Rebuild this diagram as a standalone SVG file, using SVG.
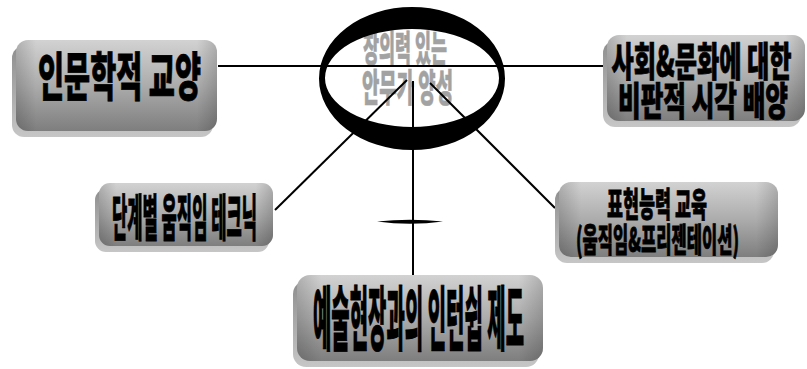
<svg xmlns="http://www.w3.org/2000/svg" width="807" height="369" viewBox="0 0 807 369">
<defs>
<linearGradient id="face" x1="0" y1="0" x2="0" y2="1">
<stop offset="0" stop-color="#d2d2d2"/>
<stop offset="0.5" stop-color="#acacac"/>
<stop offset="1" stop-color="#7e7e7e"/>
</linearGradient>
<linearGradient id="side" x1="0" y1="0" x2="0" y2="1">
<stop offset="0" stop-color="#8e8e8e"/>
<stop offset="1" stop-color="#c6c6c6"/>
</linearGradient>
<linearGradient id="edge" x1="0" y1="0" x2="1" y2="0">
<stop offset="0" stop-color="#000" stop-opacity="0.16"/>
<stop offset="0.1" stop-color="#000" stop-opacity="0"/>
<stop offset="0.9" stop-color="#000" stop-opacity="0"/>
<stop offset="1" stop-color="#000" stop-opacity="0.16"/>
</linearGradient>
</defs>
<style>
.side{fill:url(#side);}
.face{fill:url(#face);}
.edge{fill:url(#edge);}
.t{font-family:"Noto Sans CJK KR","Noto Sans CJK SC",sans-serif;font-weight:900;fill:#000;stroke:#000;stroke-width:0.8;text-anchor:middle;}
.c{font-family:"Noto Sans CJK KR","Noto Sans CJK SC",sans-serif;font-weight:900;fill:#a2a2a2;stroke:#a2a2a2;stroke-width:0.6;text-anchor:middle;}
.ln{stroke:#000;stroke-width:2;fill:none;}
</style>
<rect width="807" height="369" fill="#fff"/>

<g id="center">
<text class="c" x="405" y="62" font-size="36" textLength="84" lengthAdjust="spacingAndGlyphs">창의력 있는</text>
<text class="c" x="407.5" y="101" font-size="38" textLength="91" lengthAdjust="spacingAndGlyphs">안무가 양성</text>
</g>

<g id="connectors">
<line class="ln" x1="218" y1="66" x2="604" y2="66"/>
<line class="ln" x1="407" y1="80" x2="275" y2="210"/>
<line class="ln" x1="413" y1="81" x2="413" y2="276"/>
<line class="ln" x1="430" y1="83" x2="555" y2="208"/>
<path d="M377,221.5 Q410,218 443,221.5 Q410,226 377,221.5 Z" fill="#000"/>
</g>

<g id="ring">
<path fill="#000" fill-rule="evenodd" d="M319,78.5 A93,71.5 0 1,0 505,78.5 A93,71.5 0 1,0 319,78.5 Z M325,78 A87,49 0 1,0 499,78 A87,49 0 1,0 325,78 Z"/>
</g>

<g id="node-humanities">
<rect class="side" x="12" y="46" width="201" height="91" rx="12"/>
<rect class="face" x="16" y="40" width="201" height="91" rx="12"/>
<rect class="edge" x="16" y="40" width="201" height="91" rx="12"/>
<text class="t" x="119.5" y="96" font-size="52" textLength="163" lengthAdjust="spacingAndGlyphs">인문학적 교양</text>
</g>

<g id="node-critical">
<rect class="side" x="603" y="41" width="198" height="86" rx="12"/>
<rect class="face" x="607" y="35" width="198" height="86" rx="12"/>
<rect class="edge" x="607" y="35" width="198" height="86" rx="12"/>
<text class="t" x="701.5" y="76" font-size="40" textLength="180" lengthAdjust="spacingAndGlyphs">사회&amp;문화에 대한</text>
<text class="t" x="703" y="115" font-size="39" textLength="170" lengthAdjust="spacingAndGlyphs">비판적 시각 배양</text>
</g>

<g id="node-technique">
<rect class="side" x="95" y="189" width="174" height="63" rx="11"/>
<rect class="face" x="99" y="183" width="174" height="63" rx="11"/>
<rect class="edge" x="99" y="183" width="174" height="63" rx="11"/>
<text class="t" x="184.5" y="236" font-size="50" textLength="145" lengthAdjust="spacingAndGlyphs">단계별 움직임 테크닉</text>
</g>

<g id="node-expression">
<rect class="side" x="555" y="188" width="219" height="75" rx="12"/>
<rect class="face" x="559" y="182" width="219" height="75" rx="12"/>
<rect class="edge" x="559" y="182" width="219" height="75" rx="12"/>
<text class="t" x="657" y="217" font-size="34" textLength="100" lengthAdjust="spacingAndGlyphs">표현능력 교육</text>
<text class="t" x="657.5" y="252" font-size="33" textLength="163" lengthAdjust="spacingAndGlyphs">(움직임&amp;프리젠테이션)</text>
</g>

<g id="node-internship">
<rect class="side" x="293" y="281" width="246" height="86" rx="13"/>
<rect class="face" x="297" y="275" width="246" height="86" rx="13"/>
<rect class="edge" x="297" y="275" width="246" height="86" rx="13"/>
<text class="t" x="418.5" y="345" font-size="70" textLength="211" lengthAdjust="spacingAndGlyphs">예술현장과의 인턴쉽 제도</text>
</g>
</svg>
